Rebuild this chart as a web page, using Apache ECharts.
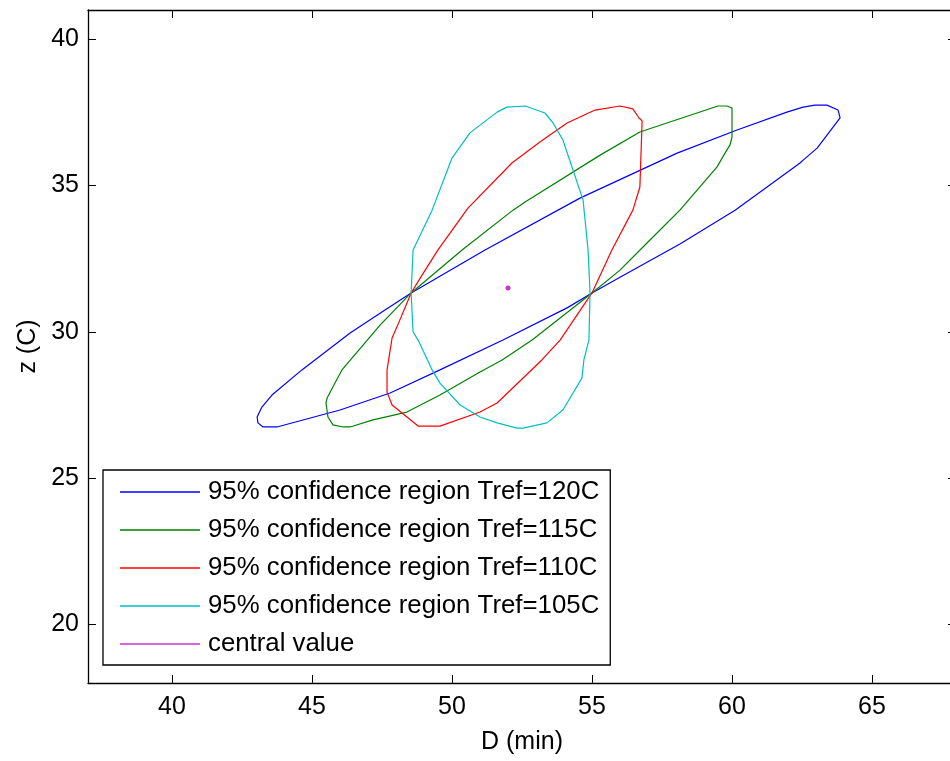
<!DOCTYPE html>
<html>
<head>
<meta charset="utf-8">
<script src="https://cdn.jsdelivr.net/npm/echarts@6/dist/echarts.min.js"></script>
<style>html,body{margin:0;padding:0;background:#fff;}#c{width:950px;height:761px;}</style>
</head>
<body>
<div id="c"></div>
<script>
// Tick labels
var xTicks = [40, 45, 50, 55, 60, 65];
var yTicks = [20, 25, 30, 35, 40];

// Series names
var names = [
  '95% confidence region Tref=120C',
  '95% confidence region Tref=115C',
  '95% confidence region Tref=110C',
  '95% confidence region Tref=105C',
  'central value'
];

// Tref=120C (blue) boundary
var blueD = [63.79,63.39,62.96,62.54,61.96,60.18,58.04,54.57,51.18,48.54,47.43,46.36,44.64,43.57,43.21,43.04,43.07,43.25,43.75,46.00,47.79,49.57,51.82,54.11,55.00,56.00,58.14,60.11,62.43,62.54,63.04,63.61,63.86];
var blueZ = [37.58,37.75,37.75,37.68,37.51,36.90,36.11,34.57,32.80,31.33,30.64,29.96,28.70,27.84,27.43,27.09,26.89,26.75,26.75,27.33,27.91,28.70,29.72,30.82,31.33,31.87,33.00,34.16,35.77,35.87,36.28,37.00,37.31];

// Tref=115C (green) boundary
var greenD = [59.50,59.82,60.00,60.00,59.93,59.82,59.46,58.14,57.07,56.00,55.00,52.86,51.79,51.00,49.57,48.39,47.18,46.36,46.11,45.75,45.57,45.50,45.54,45.82,46.07,47.43,48.54,50.36,52.18,52.61,55.29,56.71];
var greenZ = [37.72,37.72,37.65,36.66,36.39,36.22,35.63,34.16,33.14,32.11,31.33,29.72,29.04,28.63,27.84,27.26,26.99,26.75,26.75,26.82,27.09,27.57,27.74,28.25,28.70,30.23,31.33,32.80,34.16,34.44,36.04,36.83];

// Tref=110C (red) boundary
var redD = [56.00,56.46,56.68,56.79,56.71,56.46,55.71,55.00,53.86,53.21,51.61,51.00,49.57,48.79,47.86,47.68,47.68,47.86,48.14,48.54,48.93,49.50,50.57,52.14,53.14,54.11,55.11];
var redZ = [37.72,37.62,37.31,37.21,34.95,34.16,32.80,31.33,29.72,29.04,27.57,27.26,26.78,26.78,27.50,27.94,28.70,29.79,30.41,31.33,31.94,32.80,34.23,35.77,36.49,37.14,37.58];

// Tref=105C (cyan) boundary
var cyanD = [52.61,53.32,53.61,53.96,54.32,54.68,54.86,54.93,54.89,54.71,54.64,53.96,53.39,52.54,52.32,51.61,51.00,50.29,49.57,49.29,48.79,48.61,48.54,48.61,49.29,50.00,50.64,51.61,51.96];
var cyanZ = [37.72,37.48,37.14,36.56,35.53,34.51,32.80,31.33,29.72,29.04,28.42,27.33,26.89,26.71,26.71,26.89,27.09,27.50,28.25,28.70,29.72,30.00,31.33,32.80,34.16,35.94,36.80,37.51,37.68];

// Central value
var centralD = [52.0];
var centralZ = [31.5];

var colors = ['#0000ff', '#008000', '#ff0000', '#00bfbf', '#bf00bf'];

function closed(xs, ys) {
  var out = [];
  for (var i = 0; i < xs.length; i++) out.push([xs[i], ys[i]]);
  out.push([xs[0], ys[0]]);
  return out;
}
function pts(xs, ys) {
  var out = [];
  for (var i = 0; i < xs.length; i++) out.push([xs[i], ys[i]]);
  return out;
}

var font = 'Liberation Sans, Arial, sans-serif';
var fs = 25;

function lineSeries(idx, data) {
  return {
    name: names[idx], type: 'line', data: data, symbol: 'none', showSymbol: false,
    lineStyle: { color: colors[idx], width: 1.2 }, itemStyle: { color: colors[idx] },
    animation: false, z: 3
  };
}

var legendIcon = 'path://M0,0H80V1.4H0Z';

var chart = echarts.init(document.getElementById('c'), null, { renderer: 'canvas' });
chart.setOption({
  backgroundColor: '#ffffff',
  animation: false,
  grid: { left: 88, top: 10, right: -6, bottom: 78, outerBoundsMode: 'none', containLabel: false },
  xAxis: [
    {
      type: 'value', min: 37, max: 68, position: 'bottom',
      name: 'D (min)', nameLocation: 'middle', nameGap: 47,
      nameTextStyle: { fontFamily: font, fontSize: fs, color: '#000' },
      axisLine: { show: true, onZero: false, lineStyle: { color: '#000', width: 1.3 } },
      axisTick: { show: true, inside: true, length: 8, customValues: xTicks, lineStyle: { color: '#000' } },
      axisLabel: { customValues: xTicks, margin: 12, fontFamily: font, fontSize: fs, color: '#000' },
      splitLine: { show: false }
    },
    {
      type: 'value', min: 37, max: 68, position: 'top',
      axisLine: { show: true, onZero: false, lineStyle: { color: '#000', width: 1.3 } },
      axisTick: { show: true, inside: true, length: 8, customValues: xTicks, lineStyle: { color: '#000' } },
      axisLabel: { show: false },
      splitLine: { show: false }
    }
  ],
  yAxis: [
    {
      type: 'value', min: 18, max: 41, position: 'left',
      name: 'z (C)', nameLocation: 'middle', nameGap: 47, nameRotate: 90,
      nameTextStyle: { fontFamily: font, fontSize: fs, color: '#000' },
      axisLine: { show: true, onZero: false, lineStyle: { color: '#000', width: 1.3 } },
      axisTick: { show: true, inside: true, length: 8, customValues: yTicks, lineStyle: { color: '#000' } },
      axisLabel: { customValues: yTicks, margin: 9, fontFamily: font, fontSize: fs, color: '#000' },
      splitLine: { show: false }
    },
    {
      type: 'value', min: 18, max: 41, position: 'right',
      axisLine: { show: true, onZero: false, lineStyle: { color: '#000', width: 1.3 } },
      axisTick: { show: true, inside: true, length: 8, customValues: yTicks, lineStyle: { color: '#000' } },
      axisLabel: { show: false },
      splitLine: { show: false }
    }
  ],
  legend: {
    orient: 'vertical', left: 103, top: 470,
    backgroundColor: '#fff', borderColor: '#000', borderWidth: 1.3, borderRadius: 0,
    padding: [9, 11, 8, 17], itemGap: 12, itemWidth: 80, itemHeight: 14,
    textStyle: { fontFamily: font, fontSize: 25.8, color: '#000', lineHeight: 26, padding: [0, 0, 0, 3] },
    data: names.map(function (n, i) { return { name: n, icon: legendIcon, itemStyle: { color: colors[i] } }; }),
    selectedMode: false, z: 10
  },
  series: [
    lineSeries(0, closed(blueD, blueZ)),
    lineSeries(1, closed(greenD, greenZ)),
    lineSeries(2, closed(redD, redZ)),
    lineSeries(3, closed(cyanD, cyanZ)),
    {
      name: names[4], type: 'scatter', data: pts(centralD, centralZ),
      symbol: 'circle', symbolSize: 5, itemStyle: { color: colors[4] }, animation: false, z: 4
    }
  ]
});
</script>
</body>
</html>
